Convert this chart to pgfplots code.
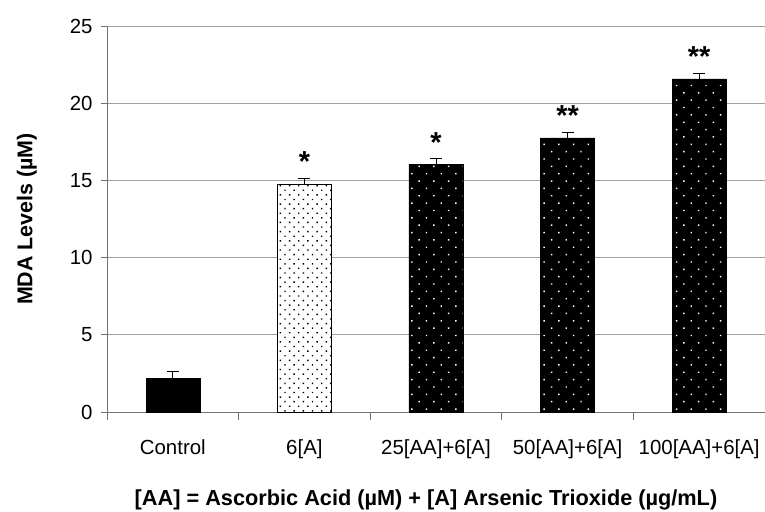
\documentclass[border=0pt]{standalone}
\usepackage{pgfplots}
\pgfplotsset{compat=1.18}
\usepackage{fontspec}
\setmainfont{Liberation Sans}
\usetikzlibrary{patterns.meta}
\begin{document}
\begin{tikzpicture}
\begin{axis}[
  at={(0,0)}, anchor=south west,
  scale only axis,
  width=658bp, height=386bp,
  xmin=-0.5, xmax=4.5,
  ymin=0, ymax=25,
  ytick={0,5,...,25},
  xtick={0,1,2,3,4},
  xticklabels={Control,6[A],25[AA]+6[A],50[AA]+6[A],100[AA]+6[A]},
  minor xtick={-0.5,0.5,1.5,2.5,3.5},
  major x tick style={draw=none},
  x tick label style={yshift=-18bp},
  y tick label style={xshift=-5bp},
  minor tick length=8bp,
  major tick length=6bp,
  tick align=outside,
  tick style={color=gray!90!black, line width=0.8pt},
  axis x line*=bottom, axis y line*=left,
  axis line style={color=gray!90!black, line width=0.8pt, -},
  ymajorgrids, grid style={color=gray!75, line width=0.8pt},
  tick label style={font=\fontsize{20.5}{24}\selectfont},
  /pgf/number format/assume math mode=true,
  ylabel={\bfseries MDA Levels (µM)},
  ylabel style={font=\fontsize{21.5}{24}\selectfont, yshift=26bp},
  xlabel={\bfseries [AA] = Ascorbic Acid (µM) + [A] Arsenic Trioxide (µg/mL)},
  xlabel style={font=\fontsize{21.8}{24}\selectfont, yshift=-24bp, xshift=-10bp},
  ybar, bar width=54bp, bar shift=0pt,
  error bars/y dir=plus, error bars/y explicit,
  error bars/error mark options={rotate=90, mark size=6bp, line width=0.9pt, black},
  error bars/error bar style={line width=0.9pt, black},
  clip=false,
]
\addplot[fill=black, draw=black] coordinates {(0,2.2) +- (0,0.4)};
\addplot[fill=white, draw=black, line width=0.8pt,
  postaction={pattern={Dots[distance=6.5bp, angle=45, radius=1bp]}, pattern color=black}]
  coordinates {(1,14.77) +- (0,0.38)};
\addplot[fill=black, draw=black,
  postaction={pattern={Dots[distance=10.4bp, angle=45, radius=1bp]}, pattern color=white}]
  coordinates {(2,16.06) +- (0,0.34) (3,17.75) +- (0,0.38) (4,21.57) +- (0,0.38)};
\addplot[draw=none, mark=none, nodes near coords, point meta=explicit symbolic,
  every node near coord/.style={font=\bfseries\fontsize{29}{30}\selectfont, anchor=south, yshift=3bp, black}]
  table[meta=lab] {
x y lab
1 15.15 *
2 16.40 *
3 18.13 **
4 21.95 **
};
\end{axis}
\pgfresetboundingbox
\useasboundingbox (-107bp,-100bp) rectangle (658bp,412bp);
\end{tikzpicture}
\end{document}
